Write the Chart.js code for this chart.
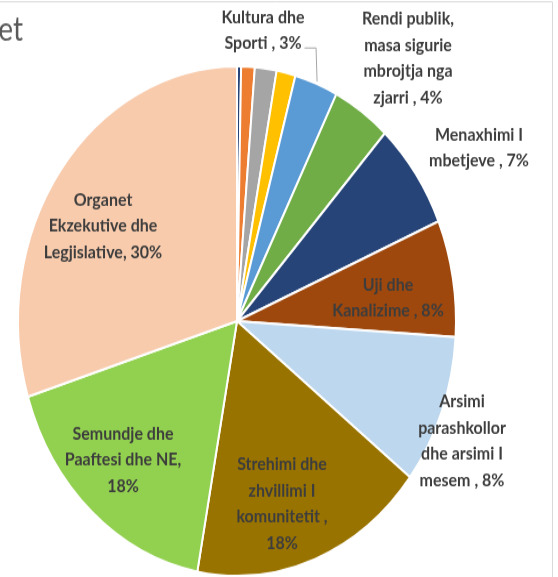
<!DOCTYPE html>
<html>
<head>
<meta charset="utf-8">
<script src="https://cdn.jsdelivr.net/npm/chart.js@4/dist/chart.umd.min.js"></script>
<style>
  html, body { margin: 0; padding: 0; background: #fff; }
  body { width: 558px; height: 577px; overflow: hidden; }
  #wrap {
    width: 558px;
    height: 496px;
    transform: scaleY(1.1633);
    transform-origin: 0 0;
  }
</style>
</head>
<body>
<div id="wrap"><canvas id="pieChart"></canvas></div>
<script>
// Slices, clockwise from the top
const categories = [
    "", "", "", "",
    "Kultura dhe Sporti",
    "Rendi publik, masa sigurie mbrojtja nga zjarri",
    "Menaxhimi I mbetjeve",
    "Uji dhe Kanalizime",
    "Arsimi parashkollor dhe arsimi I mesem",
    "Strehimi dhe zhvillimi I komunitetit",
    "Semundje dhe Paaftesi dhe NE",
    "Organet Ekzekutive dhe Legjislative"
];
const shares = [0.3, 1.0, 1.6, 1.4, 3.2, 4.3, 6.8, 7.4, 9.5, 17.4, 17.3, 29.8];

// Label text as printed on the chart, one entry per line
const sliceText = [
    null, null, null, null,
    ["Kultura dhe", "Sporti , 3%"],
    ["Rendi publik,", "masa sigurie", "mbrojtja nga", "zjarri , 4%"],
    ["Menaxhimi I", "mbetjeve , 7%"],
    ["Uji dhe", "Kanalizime , 8%"],
    ["Arsimi", "parashkollor", "dhe arsimi I", "mesem , 8%"],
    ["Strehimi dhe", "zhvillimi I", "komunitetit ,", "18%"],
    ["Semundje dhe", "Paaftesi dhe NE,", "18%"],
    ["Organet", "Ekzekutive dhe", "Legjislative, 30%"]
];

const colors = [
    "#264478", "#ED7D31", "#A5A5A5", "#FFC000", "#5B9BD5", "#70AD47",
    "#264478", "#9E480E", "#BDD7EE", "#997300", "#92D050", "#F8CBAD"
];

// label block centre, offset from the pie centre
const labelSpots = [
    null, null, null, null,
    [26, -250], [171, -226], [242, -149], [151, -20],
    [225, 103], [45, 157], [-114, 119], [-134, -82]
];
const lineGap = 22.5;

const ctx = document.getElementById("pieChart").getContext("2d");

const sliceLabels = {
    id: "sliceLabels",
    afterDatasetsDraw(chart) {
        const c = chart.ctx;
        const arcs = chart.getDatasetMeta(0).data;
        c.save();

        // frame + cut-off title of the original slide
        c.strokeStyle = "#d9d9d9";
        c.lineWidth = 1;
        c.beginPath();
        c.moveTo(-5, 1.5);
        c.lineTo(552.5, 1.5);
        c.lineTo(552.5, 600);
        c.stroke();
        c.fillStyle = "#595959";
        c.font = "28px Lato";
        c.textAlign = "right";
        c.textBaseline = "alphabetic";
        c.fillText("et", 23, 34.5);

        c.font = "bold 16px Lato";
        c.fillStyle = "#3d3d3d";
        c.textAlign = "center";
        c.textBaseline = "middle";
        sliceText.forEach((lines, i) => {
            if (!lines) return;
            const arc = arcs[i];
            const x = arc.x + labelSpots[i][0];
            const y0 = arc.y + labelSpots[i][1] - (lines.length - 1) * lineGap / 2;
            lines.forEach((t, k) => c.fillText(t, x, y0 + k * lineGap));
        });

        // leader line for Kultura dhe Sporti
        const k = arcs[4];
        const mid = (k.startAngle + k.endAngle) / 2;
        const ex = k.x + (k.outerRadius + 2) * Math.cos(mid);
        const ey = k.y + (k.outerRadius + 2) * Math.sin(mid);
        const last = sliceText[4][1];
        const tx = k.x + labelSpots[4][0] + c.measureText(last).width / 2 + 3;
        const ty = k.y + labelSpots[4][1] + lineGap / 2 + 4;
        c.strokeStyle = "#a6a6a6";
        c.beginPath();
        c.moveTo(tx, ty);
        c.lineTo(ex - 1, ty);
        c.lineTo(ex, ey);
        c.stroke();
        c.restore();
    }
};

new Chart(ctx, {
    type: "pie",
    data: {
        labels: categories,
        datasets: [{
            data: shares,
            backgroundColor: colors,
            borderColor: "#ffffff",
            borderWidth: 2
        }]
    },
    options: {
        responsive: true,
        maintainAspectRatio: false,
        animation: false,
        layout: { padding: { left: 17, right: 101, top: 56, bottom: 0 } },
        plugins: {
            legend: { display: false },
            tooltip: { enabled: false }
        }
    },
    plugins: [sliceLabels]
});
</script>
</body>
</html>
